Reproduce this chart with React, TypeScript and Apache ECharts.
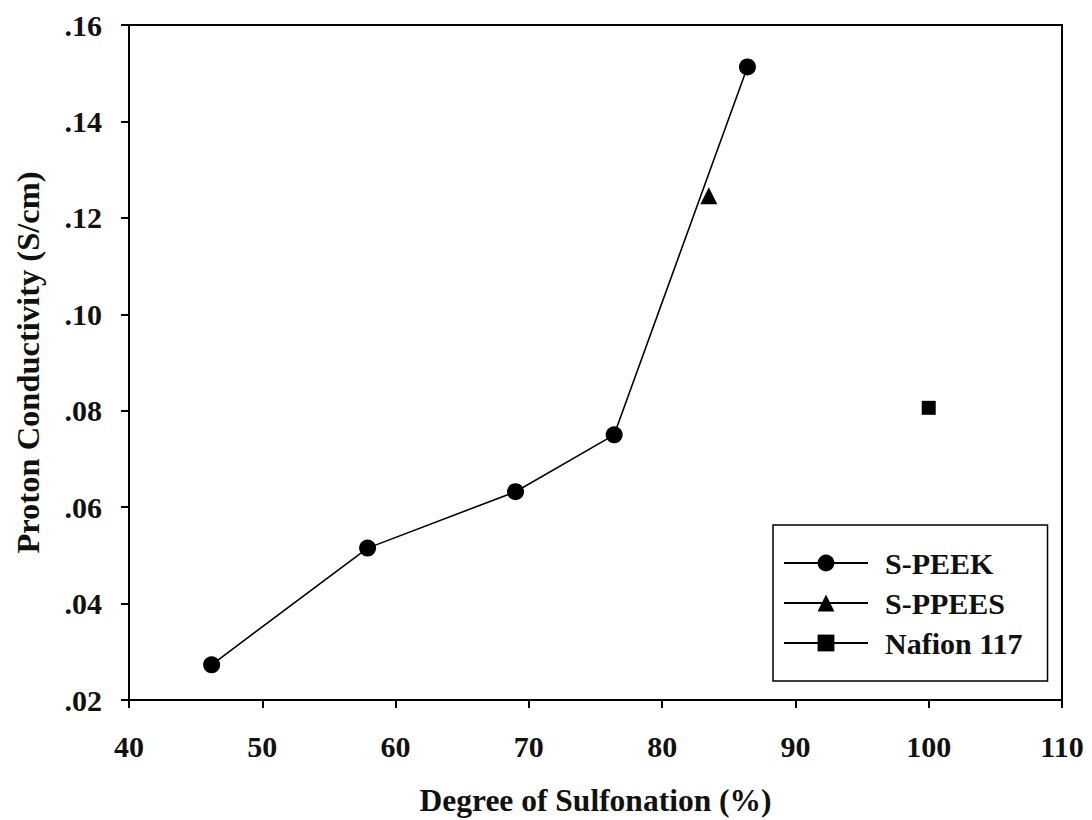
import React, { useEffect, useRef } from "react";
import * as echarts from "echarts";

const speekX = [46.2, 57.9, 69.0, 76.4, 86.4];
const speekY = [0.0273, 0.0515, 0.0632, 0.075, 0.1513];
const sppeesX = [83.5];
const sppeesY = [0.1246];
const nafionX = [100];
const nafionY = [0.0806];
const seriesNames = ["S-PEEK", "S-PPEES", "Nafion 117"];

const FONT = "Liberation Serif";

export default function App() {
  const ref = useRef<HTMLDivElement>(null);
  useEffect(() => {
    const chart = echarts.init(ref.current!, null, { renderer: "svg" });
    const pair = (xs: number[], ys: number[]) => xs.map((x, i) => [x, ys[i]]);
    const lineStyle = { color: "#000", width: 1.6 };
    chart.setOption({
      animation: false,
      backgroundColor: "#fff",
      textStyle: { fontFamily: FONT },
      grid: {
        left: 129,
        right: 30,
        top: 25,
        bottom: 120,
        containLabel: false,
        outerBoundsMode: "none",
        show: true,
        borderColor: "#000",
        borderWidth: 2,
        backgroundColor: "transparent",
      },
      xAxis: {
        type: "value",
        min: 40,
        max: 110,
        interval: 10,
        name: "Degree of Sulfonation (%)",
        nameLocation: "middle",
        nameGap: 84,
        nameTextStyle: { fontFamily: FONT, fontWeight: "bold", fontSize: 31.5, color: "#111" },
        axisLine: { show: true, lineStyle: { color: "#000", width: 2 } },
        axisTick: { show: true, inside: false, length: 8, lineStyle: { color: "#000", width: 2 } },
        axisLabel: { margin: 31, fontFamily: FONT, fontWeight: "bold", fontSize: 30, color: "#111" },
        splitLine: { show: false },
      },
      yAxis: {
        type: "value",
        min: 0.02,
        max: 0.16,
        interval: 0.02,
        name: "Proton Conductivity (S/cm)",
        nameLocation: "middle",
        nameGap: 85,
        nameRotate: 90,
        nameTextStyle: { fontFamily: FONT, fontWeight: "bold", fontSize: 32.5, color: "#111" },
        axisLine: { show: true, lineStyle: { color: "#000", width: 2 } },
        axisTick: { show: true, inside: false, length: 8, lineStyle: { color: "#000", width: 2 } },
        axisLabel: {
          margin: 27,
          fontFamily: FONT,
          fontWeight: "bold",
          fontSize: 30,
          color: "#111",
          formatter: (v: number) => v.toFixed(2).replace(/^0/, ""),
        },
        splitLine: { show: false },
      },
      legend: {
        orient: "vertical",
        left: 773,
        top: 525,
        data: seriesNames,
        backgroundColor: "#fff",
        borderColor: "#000",
        borderWidth: 1.5,
        borderRadius: 0,
        padding: [23, 25, 23, 10],
        itemGap: 10,
        itemWidth: 84,
        itemHeight: 21,
        textStyle: {
          fontFamily: FONT,
          fontWeight: "bold",
          fontSize: 30,
          lineHeight: 30,
          color: "#111",
          padding: [0, 0, 0, 12],
        },
      },
      series: [
        {
          name: seriesNames[0],
          type: "line",
          data: pair(speekX, speekY),
          symbol: "circle",
          symbolSize: 17,
          itemStyle: { color: "#000" },
          lineStyle,
          z: 3,
        },
        {
          name: seriesNames[1],
          type: "line",
          data: pair(sppeesX, sppeesY),
          symbol: "triangle",
          symbolSize: 17,
          itemStyle: { color: "#000" },
          lineStyle,
          z: 4,
        },
        {
          name: seriesNames[2],
          type: "line",
          data: pair(nafionX, nafionY),
          symbol: "rect",
          symbolSize: 14,
          itemStyle: { color: "#000" },
          lineStyle,
          z: 4,
        },
      ],
    });
    return () => chart.dispose();
  }, []);
  return (
    <div
      ref={ref}
      style={{ position: "fixed", left: 0, top: 0, width: 1092, height: 820, background: "#fff" }}
    />
  );
}
